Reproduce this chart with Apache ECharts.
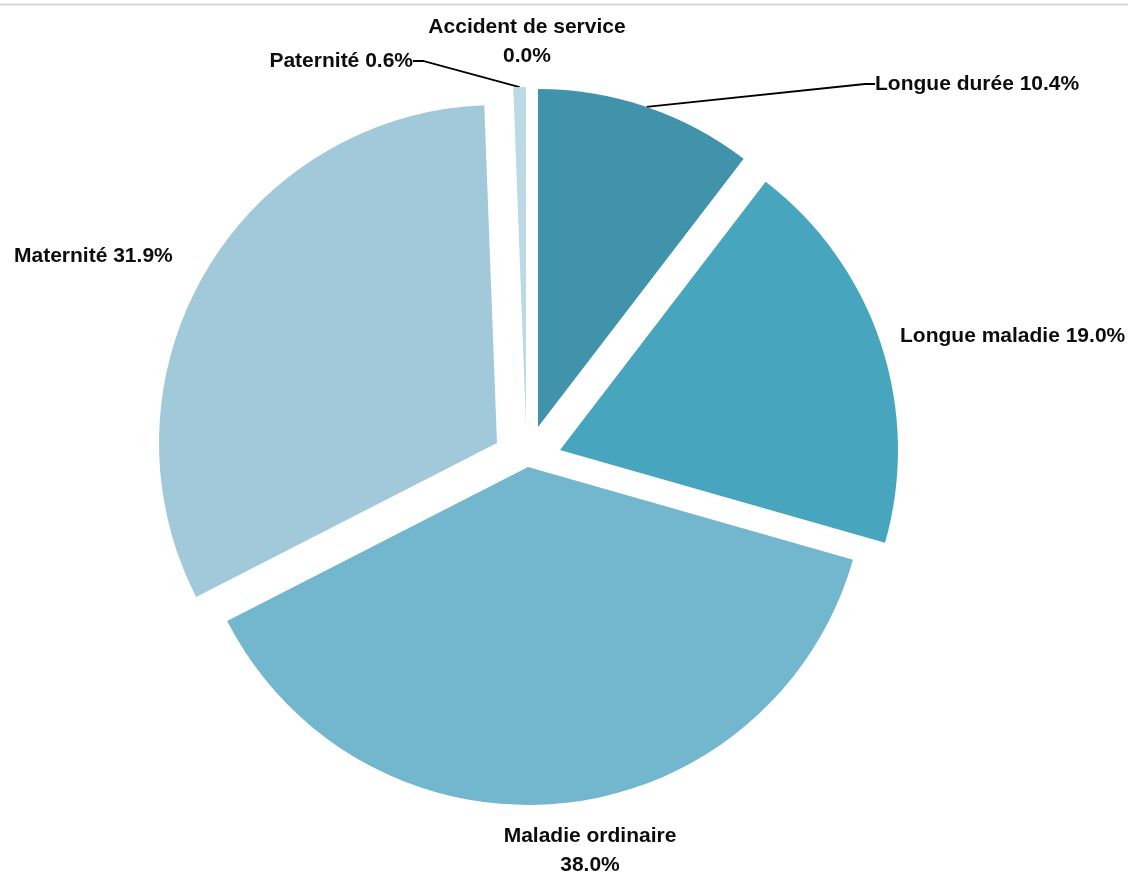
<!DOCTYPE html>
<html>
<head>
<meta charset="utf-8">
<script src="https://cdn.jsdelivr.net/npm/echarts@6/dist/echarts.min.js"></script>
<style>
  html, body { margin: 0; padding: 0; background: #ffffff; }
  #chart { width: 1130px; height: 876px; }
</style>
</head>
<body>
<div id="chart"></div>
<script>
// Répartition des absences par motif (%)
const categories = ['Longue durée', 'Longue maladie', 'Maladie ordinaire', 'Maternité', 'Paternité', 'Accident de service'];
const shares = [10.4, 19.0, 38.0, 31.9, 0.6, 0.0];
const colors = ['#4193AB', '#47A5BE', '#72B7CE', '#A2C9DA', '#BBDAE5', '#BBDAE5'];

// Pie geometry: common centre, radius and the explosion offset of each slice
const pieCenter = [527, 459];
const pieRadius = 338;
const explode = [[11, -32], [33, -9], [1, 8], [-30, -16], [-1, -34], [0, -34]];

// Where each label sits, and whether it is tied to its slice by a leader line
const labelPlacement = [
  { x: 875, y: 84,  align: 'left',   wrap: false, line: true  },
  { x: 900, y: 336, align: 'left',   wrap: false, line: false },
  { x: 590, y: 851, align: 'center', wrap: true,  line: false },
  { x: 14,  y: 256, align: 'left',   wrap: false, line: false },
  { x: 413, y: 61,  align: 'right',  wrap: false, line: true  },
  { x: 527, y: 42,  align: 'center', wrap: true,  line: false }
];

const FONT = '"Liberation Sans", Arial, sans-serif';

// One pie series per slice so that each slice can be pulled out on its own
const series = categories.map((_, i) => {
  const place = labelPlacement[i];
  return {
    type: 'pie',
    center: [pieCenter[0] + explode[i][0], pieCenter[1] + explode[i][1]],
    radius: [0, pieRadius],
    startAngle: 90,
    clockwise: true,
    avoidLabelOverlap: false,
    silent: true,
    animation: false,
    z: 2,
    data: categories.map((name, j) => ({
      name: name,
      value: shares[j],
      itemStyle: { color: j === i ? colors[j] : 'rgba(0,0,0,0)', borderWidth: 0 },
      label: { show: j === i },
      labelLine: { show: j === i && place.line }
    })),
    label: {
      position: 'outside',
      formatter: p => p.name + (place.wrap ? '\n' : ' ') + p.value.toFixed(1) + '%',
      fontFamily: FONT,
      fontSize: 21,
      fontWeight: 'bold',
      color: '#0d0d0d',
      lineHeight: 29,
      align: place.align
    },
    labelLine: {
      length: 10,
      length2: 10,
      smooth: false,
      minTurnAngle: 0,
      lineStyle: { color: '#000000', width: 1.8 }
    },
    labelLayout: () => ({
      x: place.x,
      y: place.y,
      align: place.align,
      verticalAlign: 'middle'
    }),
    emphasis: { disabled: true }
  };
});

const chart = echarts.init(document.getElementById('chart'), null, { renderer: 'canvas' });
chart.setOption({
  backgroundColor: '#ffffff',
  animation: false,
  graphic: [{
    type: 'line',
    shape: { x1: 0, y1: 4.5, x2: 1128, y2: 4.5 },
    style: { stroke: '#d6d6d6', lineWidth: 2 },
    silent: true
  }],
  series: series
});
</script>
</body>
</html>
